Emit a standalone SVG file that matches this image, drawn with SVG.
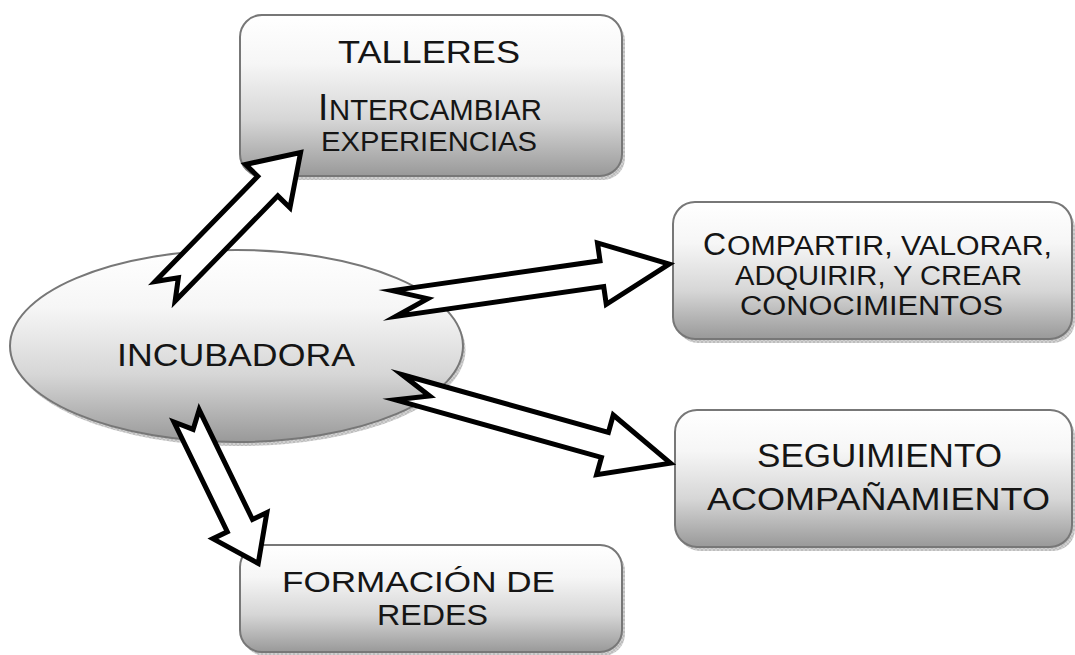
<svg xmlns="http://www.w3.org/2000/svg" width="1075" height="655" viewBox="0 0 1075 655">
<defs>
<linearGradient id="g" x1="0" y1="0" x2="0" y2="1">
<stop offset="0" stop-color="#ffffff"/>
<stop offset="0.3" stop-color="#f6f6f6"/>
<stop offset="0.65" stop-color="#d6d6d6"/>
<stop offset="1" stop-color="#999999"/>
</linearGradient>
<pattern id="hatch" width="4" height="4" patternUnits="userSpaceOnUse">
<rect width="4" height="4" fill="#d0d0d0"/>
<path d="M0 0 L4 4 M4 0 L0 4" stroke="#b0b0b0" stroke-width="0.6"/>
</pattern>
<style>
.box{fill:url(#g);stroke:#777;stroke-width:2}
.sh{fill:url(#hatch)}
.t{font-family:"Liberation Sans",Arial,sans-serif;fill:#151515}
.arr{fill:#fff;stroke:#000;stroke-width:5;stroke-linejoin:miter;stroke-miterlimit:10}
</style>
</defs>
<rect width="1075" height="655" fill="#fff"/>

<g id="talleres">
<rect class="sh" x="243" y="19" width="382" height="161" rx="22"/>
<rect class="box" x="240" y="15" width="382" height="161" rx="22"/>
<text class="t" x="338" y="63" font-size="32" textLength="182" lengthAdjust="spacingAndGlyphs">TALLERES</text>
<text class="t" y="120"><tspan x="318" font-size="37">I</tspan><tspan x="329" font-size="30" textLength="213" lengthAdjust="spacingAndGlyphs">NTERCAMBIAR</tspan></text>
<text class="t" x="321" y="151" font-size="27" textLength="216" lengthAdjust="spacingAndGlyphs">EXPERIENCIAS</text>
</g>

<g id="compartir">
<rect class="sh" x="676" y="206" width="399" height="137" rx="22"/>
<rect class="box" x="673" y="202" width="399" height="137" rx="22"/>
<text class="t" y="255"><tspan x="703" font-size="32">C</tspan><tspan x="727" font-size="27" textLength="325" lengthAdjust="spacingAndGlyphs">OMPARTIR, VALORAR,</tspan></text>
<text class="t" x="735" y="285" font-size="27" textLength="287" lengthAdjust="spacingAndGlyphs">ADQUIRIR, Y CREAR</text>
<text class="t" x="740" y="315" font-size="27" textLength="263" lengthAdjust="spacingAndGlyphs">CONOCIMIENTOS</text>
</g>

<g id="seguimiento">
<rect class="sh" x="678" y="414" width="397" height="137" rx="22"/>
<rect class="box" x="675" y="410" width="397" height="137" rx="22"/>
<text class="t" x="757" y="467" font-size="33" textLength="245" lengthAdjust="spacingAndGlyphs">SEGUIMIENTO</text>
<text class="t" x="707" y="510" font-size="32" textLength="343" lengthAdjust="spacingAndGlyphs">ACOMPAÑAMIENTO</text>
</g>

<g id="formacion">
<rect class="sh" x="243" y="549" width="382" height="107" rx="22"/>
<rect class="box" x="240" y="545" width="382" height="107" rx="22"/>
<text class="t" x="282" y="592" font-size="30" textLength="273" lengthAdjust="spacingAndGlyphs">FORMACIÓN DE</text>
<text class="t" x="377" y="625" font-size="29" textLength="111" lengthAdjust="spacingAndGlyphs">REDES</text>
</g>

<g id="incubadora">
<ellipse class="sh" cx="239" cy="350" rx="226.5" ry="96"/>
<ellipse class="box" cx="236.5" cy="346" rx="226.5" ry="96"/>
<text class="t" x="117" y="366" font-size="31" textLength="238" lengthAdjust="spacingAndGlyphs">INCUBADORA</text>
</g>

<g id="connectors">
<polygon class="arr" transform="translate(165.1,291.3) rotate(-45.7)" points="0,-14 147,-14 147,-31 194,0 147,31 147,14 0,14 19,0"/>
<polygon class="arr" transform="translate(394,303.5) rotate(-8.17)" points="0,-13 210,-13 210,-31 278,0 210,31 210,13 0,13 34,0"/>
<polygon class="arr" transform="translate(398.8,387.3) rotate(15.6)" points="0,-13 214,-13 214,-31 282,0 214,31 214,13 0,13 32,0"/>
<polygon class="arr" transform="translate(186.6,415.9) rotate(64.1)" points="0,-14 122,-14 122,-30 164,0 122,30 122,14 0,14 15,0"/>
</g>
</svg>
